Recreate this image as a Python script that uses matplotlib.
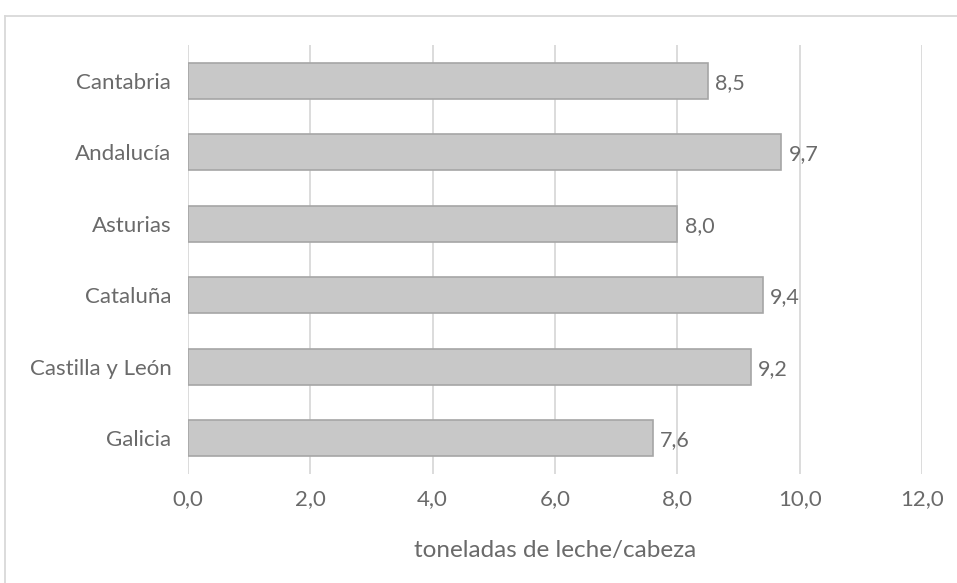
import matplotlib.pyplot as plt
from matplotlib.lines import Line2D

regiones = ['Cantabria', 'Andalucía', 'Asturias', 'Cataluña', 'Castilla y León', 'Galicia']
valores = [8.5, 9.7, 8.0, 9.4, 9.2, 7.6]
ticks_x = [0, 2, 4, 6, 8, 10, 12]

plt.rcParams['font.family'] = ['Lato', 'DejaVu Sans']
gris = '#6a6a6a'

fig = plt.figure(figsize=(9.57, 5.83), dpi=100)
ax = fig.add_axes([0.1964, 0.187, 0.767, 0.736])

pos = list(range(len(regiones)))
ax.barh(pos, valores, height=0.5, color='#c8c8c8', edgecolor='#a6a6a6', linewidth=1.2, zorder=3)
for p, v in zip(pos, valores):
    ax.text(v + 0.12, p + 0.03, f"{v:.1f}".replace('.', ','), va='center', ha='left',
            fontsize=15.5, color=gris)

ax.set_xlim(0, 12)
ax.set_ylim(len(regiones) - 0.5, -0.5)
ax.set_xticks(ticks_x)
ax.set_xticklabels([f"{t:.1f}".replace('.', ',') for t in ticks_x])
ax.set_yticks(pos)
ax.set_yticklabels(regiones)
ax.tick_params(length=0, labelsize=16, labelcolor=gris)
ax.tick_params(axis='x', pad=11)
ax.tick_params(axis='y', pad=12)
ax.grid(axis='x', color='#d9d9d9', linewidth=1.3, zorder=0)
for s in ax.spines.values():
    s.set_visible(False)
ax.set_xlabel('toneladas de leche/cabeza', fontsize=17.5, color=gris, labelpad=22)

# marco del gráfico
fig.add_artist(Line2D([5/957, 5/957], [0, 1 - 16/583], color='#d9d9d9', linewidth=1.3))
fig.add_artist(Line2D([5/957, 1], [1 - 16/583, 1 - 16/583], color='#d9d9d9', linewidth=1.3))

plt.savefig("out.png")
